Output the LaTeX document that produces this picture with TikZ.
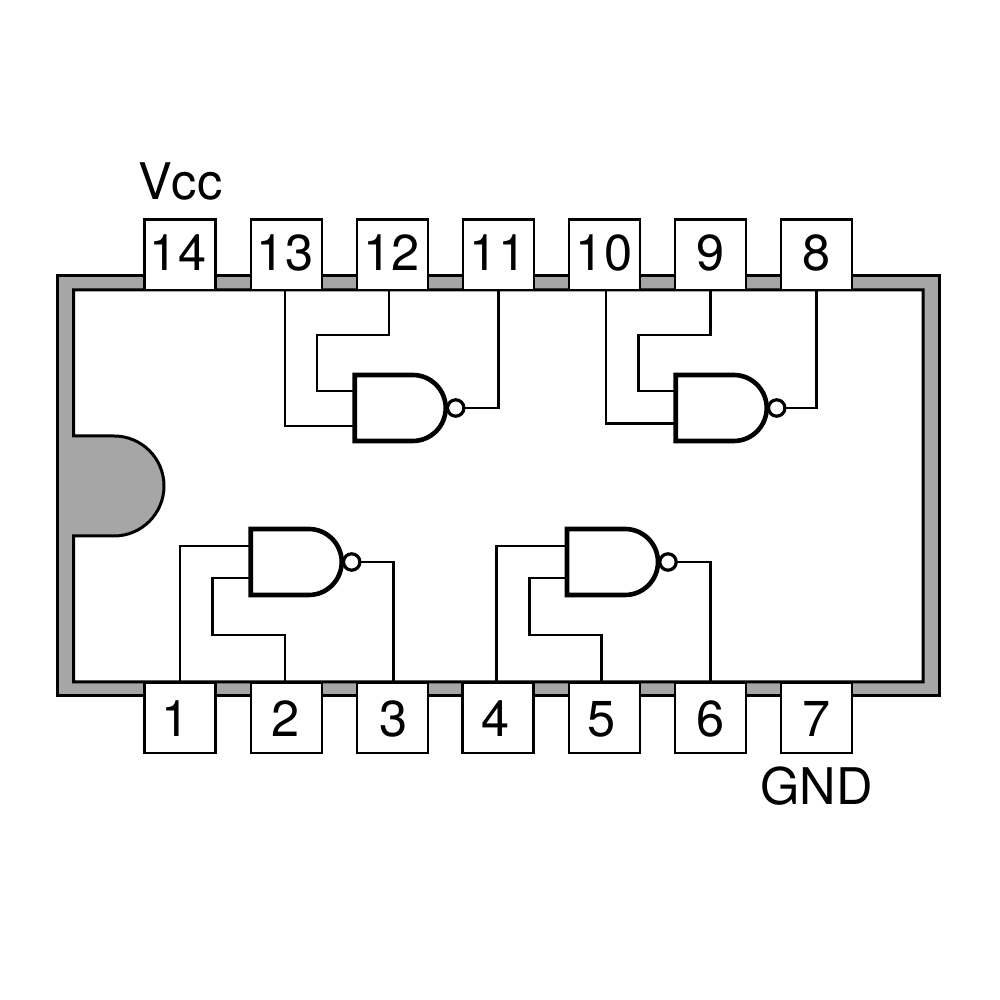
\documentclass[tikz,border=0pt]{standalone}
\usepackage{fontspec}
\setmainfont{TeX Gyre Heros}
\definecolor{pkg}{HTML}{A6A6A6}
\tikzset{
  x=1pt,y=1pt,
  pkgline/.style={draw=black,line width=3pt,line join=miter},
  pinbox/.style={draw=black,fill=white,line width=2.8pt,inner sep=0pt,outer sep=0pt,minimum width=71pt,minimum height=70.5pt},
  pintext/.style={inner sep=0pt,outer sep=0pt,anchor=base,font=\fontsize{50.5}{60}\selectfont,text=black},
  gatebox/.style={inner sep=0pt,outer sep=0pt,minimum width=90.3pt,minimum height=66pt},
  gateline/.style={draw=black,fill=white,line width=4.6pt,line join=miter},
  bubble/.style={circle,draw=black,fill=white,line width=3.2pt,inner sep=0pt,outer sep=0pt,minimum size=16.4pt},
  wire/.style={draw=black,line width=2.7pt,line join=miter}
}
\newcommand{\nandgate}[3]{%
  \node[gatebox] (#1) at (#2,#3) {};
  \node[bubble] (#1b) at ([xshift=10.7pt]#1.east) {};
  \draw[gateline] (#1.north west) -- ++(58,0) arc (90:-90:33) -- (#1.south west) -- cycle;
}
\begin{document}
\begin{tikzpicture}
\useasboundingbox (0,0) rectangle (1000,1000);
\fill[white] (0,0) rectangle (1000,1000);
% package
\draw[pkgline,fill=pkg] (57.5,304) rectangle (939,724);
\draw[pkgline,fill=white] (73.5,710) -- (923,710) -- (923,318) -- (73.5,318) -- (73.5,464) -- (114,464)
   arc (-90:90:50) -- (73.5,564) -- cycle;
% gates
\nandgate{ga}{399.85}{592}
\nandgate{gb}{720.85}{592}
\nandgate{gc}{295.85}{438}
\nandgate{gd}{612.15}{438}
% pins
\foreach \n/\cx in {14/180,13/286.5,12/392.5,11/498.5,10/604.5,9/710.5,8/816.5}
  \node[pinbox] (p\n) at (\cx,745.3) {};
\foreach \n/\cx in {1/180,2/286.5,3/392.5,4/498,5/604.5,6/710.5,7/816.5}
  \node[pinbox] (p\n) at (\cx,282.3) {};
\foreach \n/\tx in {14/178,13/285,12/391.5,11/498,10/604,9/710.5,8/816.5}
  \node[pintext] (t\n) at (\tx,729.8) {\n};
\foreach \n/\tx in {1/175.5,2/286,3/394,4/496,5/602,6/710.5,7/816.5}
  \node[pintext] (t\n) at (\tx,263.2) {\n};
\node[pintext] (vcc) at (180.3,800) {Vcc};
\node[pintext] (gnd) at (816.5,195) {GND};
% wires, upper gates
\draw[wire] ([xshift=-1.5pt]p13.south) |- ([yshift=-18pt]ga.west);
\draw[wire] ([xshift=-3.5pt]p12.south) |- (317,665) |- ([yshift=17pt]ga.west);
\draw[wire] (gab.east) -| (p11.south);
\draw[wire] ([xshift=1.5pt]p10.south) |- ([yshift=-15.3pt]gb.west);
\draw[wire] (p9.south) |- (638.3,665) |- ([yshift=17pt]gb.west);
\draw[wire] (gbb.east) -| (p8.south);
% wires, lower gates
\draw[wire] (p1.north) |- ([yshift=16pt]gc.west);
\draw[wire] ([xshift=-1.5pt]p2.north) |- (212.7,365) |- ([yshift=-16pt]gc.west);
\draw[wire] ([xshift=1pt]p3.north) |- (gcb.east);
\draw[wire] ([xshift=-1.5pt]p4.north) |- ([yshift=16pt]gd.west);
\draw[wire] ([xshift=-3pt]p5.north) |- (529.3,365) |- ([yshift=-16pt]gd.west);
\draw[wire] (gdb.east) -| (p6.north);
\end{tikzpicture}
\end{document}
